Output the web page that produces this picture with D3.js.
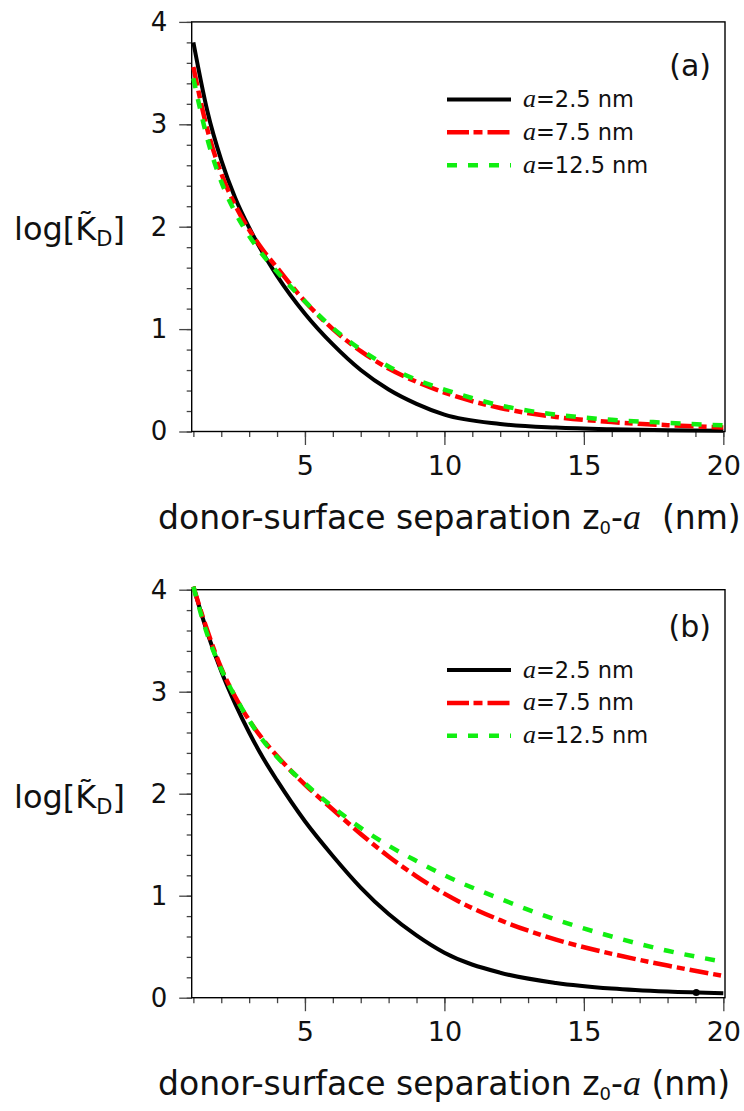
<!DOCTYPE html>
<html lang="en">
<head>
<meta charset="UTF-8">
<script src="https://d3js.org/d3.v7.min.js"></script>
<title>log KD vs separation</title>
<style>
  body { margin: 0; background: #fff; }
  svg text { font-family: "DejaVu Sans", sans-serif; fill: #111; }
  .ital { font-family: "Liberation Serif", serif; font-style: italic; }
  .tick line { stroke: #444; stroke-width: 1.3px; }
</style>
</head>
<body>
<script>
// separation z0-a (nm)
const sep = [1, 1.5, 2, 2.5, 3, 3.5, 4, 5, 6, 7, 8, 9, 10, 12, 14, 16, 18, 20];

// panel (a)
const a25_A  = [3.80, 3.13, 2.65, 2.28, 1.99, 1.74, 1.52, 1.15, 0.85, 0.60, 0.41, 0.27, 0.165, 0.074, 0.038, 0.021, 0.012, 0.007];
const a75_A  = [3.56, 2.95, 2.52, 2.21, 1.97, 1.77, 1.60, 1.27, 1.00, 0.785, 0.615, 0.485, 0.38, 0.23, 0.142, 0.092, 0.062, 0.04];
const a125_A = [3.45, 2.86, 2.44, 2.14, 1.91, 1.72, 1.56, 1.27, 1.01, 0.80, 0.635, 0.505, 0.41, 0.255, 0.165, 0.114, 0.085, 0.06];

// panel (b)
const a25_B  = [4.03, 3.58, 3.20, 2.88, 2.60, 2.35, 2.13, 1.73, 1.39, 1.08, 0.82, 0.61, 0.44, 0.245, 0.145, 0.09, 0.06, 0.043];
const a75_B  = [4.03, 3.60, 3.23, 2.95, 2.72, 2.53, 2.37, 2.09, 1.845, 1.605, 1.385, 1.19, 1.02, 0.76, 0.57, 0.43, 0.315, 0.213];
const a125_B = [4.03, 3.56, 3.22, 2.95, 2.72, 2.52, 2.36, 2.10, 1.87, 1.665, 1.49, 1.34, 1.20, 0.97, 0.765, 0.60, 0.46, 0.353];
const markB = [19.03]; // small dot sitting on the black curve in (b)

const legendLabels = ["=2.5 nm", "=7.5 nm", "=12.5 nm"];
const xMajor = [5, 10, 15, 20];
const xMinor = d3.range(1, 21);
const yMajor = [0, 1, 2, 3, 4];
const yMinor = d3.range(0, 4.01, 0.2);

const styles = [
  {color: "#000000", width: 4, dash: null},
  {color: "#ff0000", width: 4.5, dash: "19,5,8,5"},
  {color: "#11ee11", width: 4.5, dash: "10,11"}
];

const svg = d3.select("body").append("svg")
  .attr("width", 744).attr("height", 1111);

const x = d3.scaleLinear().domain([0.94, 20.06]).range([191.7, 725]);

const panels = [
  {top: 21.9, bottom: 431.5, tag: "(a)", tagY: 76, legY: 99.4, series: [a25_A, a75_A, a125_A], gap: "\u00a0\u00a0", marks: []},
  {top: 589.7, bottom: 997.7, tag: "(b)", tagY: 637, legY: 670, series: [a25_B, a75_B, a125_B], gap: "\u00a0", marks: markB}
];

panels.forEach(p => {
  const y = d3.scaleLinear().domain([0, 4]).range([p.bottom, p.top]);
  const g = svg.append("g");

  // y axis ticks
  g.append("g").attr("transform", `translate(${x.range()[0]},0)`)
    .call(d3.axisLeft(y).tickValues(yMinor).tickSize(5).tickSizeOuter(0).tickFormat(""))
    .call(a => a.select(".domain").remove());
  g.append("g").attr("transform", `translate(${x.range()[0]},0)`)
    .call(d3.axisLeft(y).tickValues(yMajor).tickSize(12.5).tickSizeOuter(0).tickPadding(12).tickFormat(d3.format("d")))
    .call(a => a.select(".domain").remove())
    .selectAll("text").style("font-size", "26px");

  // x axis ticks
  g.append("g").attr("transform", `translate(0,${p.bottom})`)
    .call(d3.axisBottom(x).tickValues(xMinor).tickSize(5.5).tickSizeOuter(0).tickFormat(""))
    .call(a => a.select(".domain").remove());
  g.append("g").attr("transform", `translate(0,${p.bottom})`)
    .call(d3.axisBottom(x).tickValues(xMajor).tickSize(13.5).tickSizeOuter(0).tickPadding(11).tickFormat(d3.format("d")))
    .call(a => a.select(".domain").remove())
    .selectAll("text").style("font-size", "27px");

  // frame
  g.append("rect")
    .attr("x", x.range()[0]).attr("y", p.top)
    .attr("width", x.range()[1] - x.range()[0]).attr("height", p.bottom - p.top)
    .attr("fill", "none").attr("stroke", "#000").attr("stroke-width", 1.4);

  // curves
  const line = d3.line().x(d => x(d[0])).y(d => y(d[1])).curve(d3.curveMonotoneX);
  p.series.forEach((vals, i) => {
    g.append("path")
      .datum(sep.map((s, k) => [s, vals[k]]))
      .attr("d", line)
      .attr("fill", "none")
      .attr("stroke", styles[i].color)
      .attr("stroke-width", styles[i].width)
      .attr("stroke-dasharray", styles[i].dash);
  });

  // dot marker on black curve
  const interp = d3.scaleLinear().domain(sep).range(p.series[0]);
  g.selectAll("circle.mark").data(p.marks).join("circle")
    .attr("class", "mark")
    .attr("cx", d => x(d)).attr("cy", d => y(interp(d)))
    .attr("r", 3.5).attr("fill", "#000");

  // panel tag
  g.append("text").attr("x", 711).attr("y", p.tagY)
    .attr("text-anchor", "end").style("font-size", "30px").text(p.tag);

  // legend
  legendLabels.forEach((lab, i) => {
    const ly = p.legY + i * 32.9;
    g.append("line")
      .attr("x1", 447).attr("x2", 511).attr("y1", ly).attr("y2", ly)
      .attr("stroke", styles[i].color).attr("stroke-width", styles[i].width)
      .attr("stroke-dasharray", i === 1 ? "22,4.5,9,5" : styles[i].dash);
    const t = g.append("text").attr("x", 523).attr("y", ly + 7.5).style("font-size", "22.5px");
    t.append("tspan").attr("class", "ital").style("font-size", "26px").text("a");
    t.append("tspan").text(lab);
  });

  // y label
  const yl = g.append("text").attr("x", 14).attr("y", p.top + 218).style("font-size", "32px");
  yl.append("tspan").text("log[K\u0303");
  yl.append("tspan").attr("dy", 6).style("font-size", "21px").text("D");
  yl.append("tspan").attr("dy", -6).text("]");

  // x label
  const xl = g.append("text").attr("x", 158).attr("y", p.bottom + 97.5).style("font-size", "33px");
  xl.append("tspan").text("donor-surface separation z");
  xl.append("tspan").attr("dy", 5).style("font-size", "18px").text("0");
  xl.append("tspan").attr("dy", -5).text("-");
  xl.append("tspan").attr("class", "ital").style("font-size", "36px").text("a");
  xl.append("tspan").text(p.gap + "(nm)");
});
</script>
</body>
</html>
